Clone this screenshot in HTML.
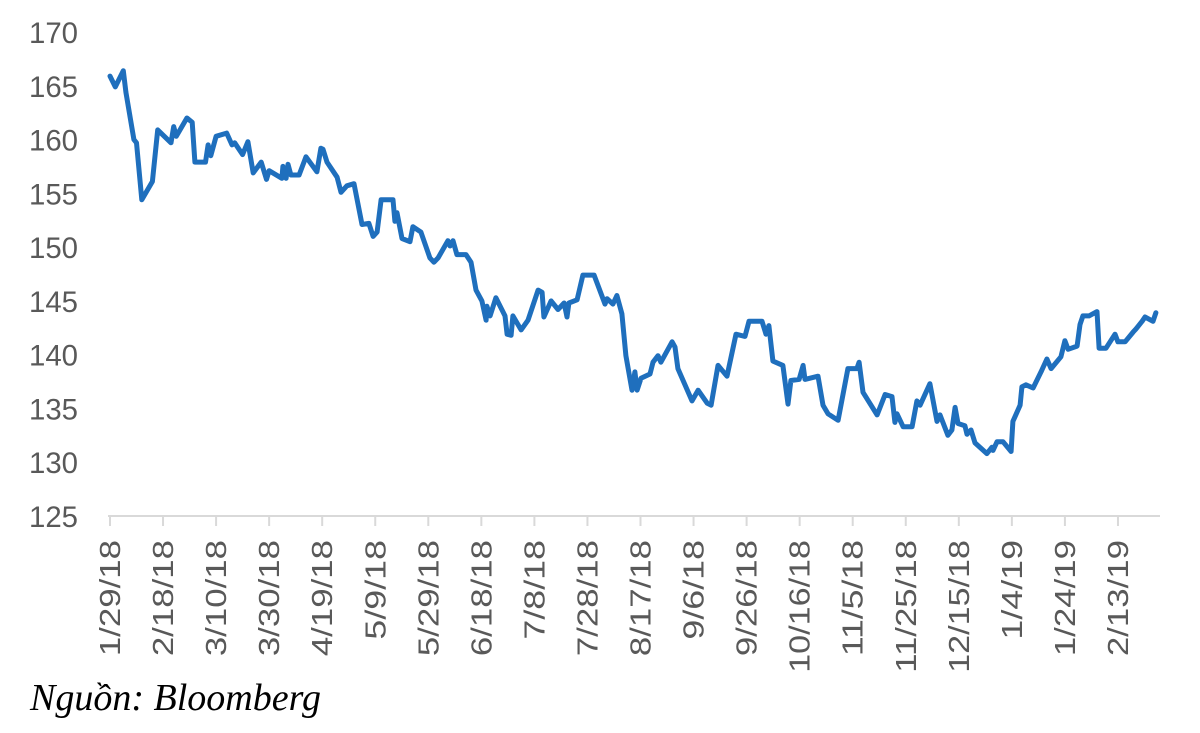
<!DOCTYPE html>
<html><head><meta charset="utf-8"><style>
html,body{margin:0;padding:0;background:#fff;}
svg{display:block;}
</style></head><body>
<svg id="chart" width="1200" height="733" viewBox="0 0 1200 733" xmlns="http://www.w3.org/2000/svg">
<g id="yaxis"></g>
<g id="xaxis"></g>
<g id="series"></g>
<text x="30" y="710" font-family="Liberation Serif, serif" font-style="italic" font-size="38" fill="#000">Nguồn: Bloomberg</text>
</svg>
<script>
const yTicks = [125,130,135,140,145,150,155,160,165,170];
const xTickLabels = ["1/29/18","2/18/18","3/10/18","3/30/18","4/19/18","5/9/18","5/29/18","6/18/18","7/8/18","7/28/18","8/17/18","9/6/18","9/26/18","10/16/18","11/5/18","11/25/18","12/15/18","1/4/19","1/24/19","2/13/19"];
const days = [0,2,5,6,9,10,12,16,18,23,24,25,29,31,32,36,37,38,40,44,46,47,50,52,54,57,59,60,64.8,65.2,66.4,67.1,68.2,71.3,73.9,78.0,79.5,80.3,81.8,85.6,87.1,89.3,92.0,95.0,97.6,99.2,100.7,102.2,106.7,107.4,108.2,110.1,113.1,114.2,117.2,120.6,122.1,123.7,127.4,128.2,129.3,130.8,134.2,136.1,138.0,140.2,141.8,142.1,143.3,145.5,148.9,149.7,151.2,151.9,155.0,157.6,161.4,162.9,163.6,166.3,168.9,171.2,172.3,173.0,176.1,178.3,182.5,186.6,187.4,189.6,191.1,193.0,194.5,196.8,197.9,198.7,200.2,203.6,204.7,206.6,207.7,211.9,213.0,214.1,219.4,221.7,225.1,226.6,229.2,232.6,236.0,239.4,240.9,245.8,247.3,248.4,249.9,253.7,255.6,256.7,259.8,261.3,262.0,266.9,268.8,270.7,274.5,278.2,281.6,282.4,283.9,289.2,292.2,294.8,295.9,296.7,299.0,302.4,304.2,305.4,309.1,311.8,312.9,315.9,317.4,318.6,319.7,322.3,323.1,324.6,326.1,330.6,332.5,332.9,334.4,336.7,339.7,340.4,343.1,343.8,345.3,348.0,351.0,353.2,354.8,358.5,360.0,361.2,364.6,365.7,366.8,369.1,372.1,372.9,375.5,378.9,380.0,382.7,385.7,386.8,389.1,390.2,393.2,394.3,395.1];
const values = [165.9,164.9,166.4,164.4,160.0,159.7,154.4,156.1,160.9,159.7,161.2,160.3,162.0,161.6,157.9,157.9,159.5,158.5,160.3,160.6,159.5,159.7,158.6,159.8,156.9,157.9,156.3,157.1,156.4,157.5,156.4,157.7,156.7,156.7,158.4,157.0,159.2,159.1,157.9,156.5,155.1,155.7,155.9,152.1,152.2,151.0,151.4,154.4,154.4,152.4,153.2,150.8,150.5,151.9,151.4,149.0,148.6,149.0,150.6,150.1,150.6,149.3,149.3,148.6,146.0,145.0,143.2,144.5,143.6,145.3,143.6,141.9,141.8,143.6,142.3,143.2,146.0,145.8,143.5,145.0,144.2,144.8,143.5,144.8,145.1,147.4,147.4,144.7,145.2,144.7,145.5,143.8,139.9,136.7,138.4,136.7,137.8,138.2,139.3,139.9,139.3,141.2,140.7,138.7,135.7,136.7,135.5,135.3,139.0,138.0,141.9,141.7,143.1,143.1,141.9,142.7,139.4,139.0,135.4,137.6,137.7,139.0,137.7,138.0,135.3,134.5,133.9,138.7,138.7,139.3,136.5,134.4,136.3,136.1,133.7,134.5,133.3,133.3,135.7,135.3,137.3,133.8,134.4,132.5,133.0,135.1,133.6,133.4,132.6,133.0,131.8,130.8,131.4,131.1,131.9,131.9,131.0,133.8,135.3,137.0,137.2,136.9,138.4,139.6,138.7,139.8,141.3,140.5,140.8,142.8,143.6,143.6,144.0,140.6,140.6,141.9,141.2,141.2,142.1,142.4,143.1,143.5,143.1,143.9];

const NS = "http://www.w3.org/2000/svg";
const X0 = 110, PX_PER_DAY = 53.05/20, Y0 = 516, PX_PER_UNIT = (516-32)/45;
function xScale(d){ return X0 + d*PX_PER_DAY; }
function yScale(v){ return Y0 - (v-125)*PX_PER_UNIT; }
function mk(tag, attrs, parent){ const e=document.createElementNS(NS,tag); for(const k in attrs) e.setAttribute(k,attrs[k]); parent.appendChild(e); return e; }

const yAxis = document.getElementById('yaxis');
yTicks.forEach(v=>{
  const t = mk('text',{x:78,y:yScale(v)+11,'text-anchor':'end','font-family':'Liberation Sans, sans-serif','font-size':'30',fill:'#595959',textLength:'49',lengthAdjust:'spacingAndGlyphs'},yAxis);
  
  
  t.textContent = v;
});

const xAxis = document.getElementById('xaxis');
const axisLine = mk('line',{x1:108,y1:Y0,x2:1160,y2:Y0,stroke:'#d9d9d9','stroke-width':'2'},xAxis);


xTickLabels.forEach((lab,i)=>{
  const x = xScale(i*20);
  const tk = mk('line',{x1:x,y1:Y0,x2:x,y2:Y0+10,stroke:'#d9d9d9','stroke-width':'2'},xAxis);
  
  
  const t = mk('text',{x:0,y:0,transform:`translate(${x+10},540) rotate(-90)`,'text-anchor':'end','font-family':'Liberation Sans, sans-serif','font-size':'29',fill:'#595959',textLength:String(lab.length*16.6),lengthAdjust:'spacingAndGlyphs'},xAxis);
  
  
  t.textContent = lab;
});

const series = document.getElementById('series');
const pts = days.map((d,i)=>xScale(d).toFixed(1)+','+yScale(values[i]).toFixed(1)).join(' ');
const line = mk('polyline',{points:pts,fill:'none',stroke:'#1f6fbd','stroke-width':'5','stroke-linejoin':'round','stroke-linecap':'round'},series);


</script>
</body></html>
